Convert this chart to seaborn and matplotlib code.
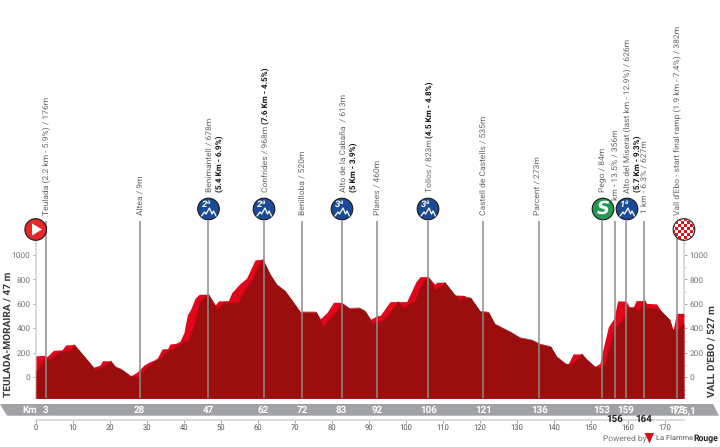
import matplotlib
matplotlib.use("Agg")
import matplotlib.pyplot as plt
import matplotlib.transforms as mtrans
from matplotlib.patches import Circle, Polygon, Rectangle
import numpy as np
import pandas as pd
import seaborn as sns

top_km = [0,2.4,3,4.7,7,8.1,10.3,15.5,17.3,18,20.2,21.4,23.1,25.5,27.2,29.2,30.8,32.6,34.1,35.6,36.2,37.8,38.9,40,40.9,41.8,43,44.1,46.6,48.4,49.3,52,52.9,55.1,56.9,59.2,61.3,63.2,65,67.3,69.1,71.4,75.7,76.8,78.7,80.4,82.6,84.7,87.4,88.9,90.4,92.1,93,95.7,97.9,100.2,102.7,103.8,106,107.8,108.3,110.5,113.2,115.7,116.2,117.5,120,122.3,124,126.3,128.1,130.8,134,136.2,139.1,140.7,143,143.9,145.2,147.5,148.8,151,152.4,153.2,154.7,156.2,157.2,159.5,160.4,161.4,162.2,164.6,165,167.7,169.1,171.3,172.2,173.1,175.1]
top_m = [175,180,170,220,225,265,268,82,100,136,134,87,65,11,40,100,128,147,232,234,272,278,294,368,510,556,646,679,679,590,624,627,692,765,810,960,965,845,760,706,632,534,534,477,532,613,613,564,567,542,474,502,505,619,619,619,782,823,823,760,777,777,673,670,654,649,540,532,436,400,373,324,305,272,251,169,114,114,191,191,147,87,114,224,414,482,624,624,572,572,627,627,605,600,537,469,387,523,523]
base_km = [0,2.4,3.8,6,7.4,9.6,10.3,15.5,16,17.7,20,20.2,21.4,23.1,25.5,27.7,29.2,30.8,32.6,33.5,35.3,37.1,38.9,40,41.2,43,44.3,46.6,48.4,48.8,50.6,52.4,54.7,56.9,58.7,60.1,61.3,63.2,65,67.3,69.1,71.4,75.7,76.8,77.7,79.5,81.3,82.6,84.7,87.4,88.9,90.4,90.7,92.1,93.9,96.6,97.9,99.3,101.1,102.4,103.8,105.1,106,107.8,110.1,110.5,113.2,114.6,115.7,117.5,120,122.3,124,126.3,128.1,130.8,134,136.2,139.1,140.7,143,143.6,145.2,147,147.5,148.8,151,152.4,153.8,155.1,156.2,157.4,158.7,160.1,161.4,163,164.1,164.6,165,167.7,169.1,171.3,172,173.1,175.1]
base_m = [38,155,142,196,215,215,268,82,55,82,120,134,87,65,11,0,55,100,147,142,210,229,262,292,300,442,619,679,590,551,605,613,613,728,810,905,965,845,760,706,632,534,534,477,409,482,537,605,564,567,542,474,436,447,463,564,619,564,605,619,728,796,823,714,755,777,673,632,660,649,540,532,436,400,373,324,305,272,251,169,114,101,114,174,191,147,87,74,114,251,400,428,482,572,572,542,619,627,565,565,537,469,392,387,441]

waypoint_km = [2.6,28,46.6,61.5,71.9,82.6,92.1,106,120.9,136,152.9,156.4,159.4,164.3,173.2]
waypoint_labels = ["3","28","47","62","72","83","92","106","121","136","153","156","159","164","173"]
lowered = {"156","164"}
elev_ticks = [0,200,400,600,800,1000]
elev_minor = [-100,100,300,500,700,900,1100]
km_ticks = list(range(0,171,10))
total_km = 175.1

# (x px, bottom px, text, bold) rotated labels
labels = [
 (45.7,215,"Teulada (2.2 km - 5.9%) / 176m",False),
 (139.5,215,"Altea / 9m",False),
 (209,192,"Benimantell / 678m",False),
 (219,192,"(5.4 Km - 6.9%)",True),
 (265,192,"Confrides / 968m",False),
 (265,124,"(7.6 Km - 4.5%)",True),
 (301.7,215,"Benilloba / 520m",False),
 (343,192,"Alto de la Cabaña  / 613m",False),
 (352.7,192,"(5 Km - 3.9%)",True),
 (377,215,"Planes / 460m",False),
 (429,192,"Tollos / 823m",False),
 (429,138,"(4.5 Km - 4.8%)",True),
 (483,215,"Castell de Castells / 535m",False),
 (538,215,"Parcent / 273m",False),
 (602.7,192,"Pego / 84m",False),
 (614.7,200,"km - 13.5% / 356m",False),
 (627,192.7,"Alto del Miserat (last km - 12.9%) / 626m",False),
 (636.7,192,"(5.7 Km - 9.3%)",True),
 (644,213,"1 km - 6.3% / 627m",False),
 (676.7,215,"Vall d'Ebo - start final ramp (1.9 km - 7.4%) / 382m",False),
]
climbs = [(208.5,"2ª"),(264,"2ª"),(342,"3ª"),(428,"3ª"),(627,"1ª")]

sns.set_theme(style="white")
plt.rcParams["font.family"] = ["Roboto","DejaVu Sans"]
plt.rcParams["text.hinting"] = "none"
GREY = "#666666"
BRIGHT = "#e2061a"
DARK = "#9a0f0d"
BAND = "#a0a2a5"

fig = plt.figure(figsize=(7.2,4.47),dpi=100,facecolor="white")
ax = fig.add_axes([0,0,1,1])
KX, KY = 3.7, 0.1223
ax.set_xlim(-36/KX,(720-36)/KX)
ax.set_ylim((377.3-447)/KY,377.3/KY)
ax.set_facecolor("white")
pix = mtrans.Affine2D().scale(1,-1).translate(0,447)
xpix = mtrans.blended_transform_factory(ax.transData,pix)
floor = (377.3-398.3)/KY

df_top = pd.DataFrame({"km":top_km,"m":top_m})
df_base = pd.DataFrame({"km":base_km,"m":base_m})
ax.fill_between(df_top.km,floor,df_top.m,color=BRIGHT,lw=0,zorder=2)
ax.fill_between(df_base.km,floor,df_base.m,color=DARK,lw=0,zorder=3)
sns.lineplot(data=df_base,x="km",y="m",color=DARK,lw=0.4,ax=ax,zorder=3,errorbar=None,estimator=None)

for k in waypoint_km:
    ax.plot([k,k],[221,398.3],transform=xpix,color="#8c8c8c",lw=1.1,zorder=4,solid_capstyle="butt")

# axes
ax.spines["top"].set_visible(False)
ax.spines["left"].set_position(("data",0))
ax.spines["right"].set_position(("data",total_km))
ax.spines["bottom"].set_position(("data",(377.3-420)/KY))
ax.spines["left"].set_bounds(floor,1240)
ax.spines["right"].set_bounds(floor,1240)
ax.spines["bottom"].set_bounds(0,total_km)
for s in ["left","right","bottom"]:
    ax.spines[s].set_color("#d5d5d5")
    ax.spines[s].set_linewidth(1.2)
    ax.spines[s].set_zorder(1)
ax.set_yticks(elev_ticks)
ax.set_yticks(elev_minor,minor=True)
ax.set_xticks(km_ticks)
ax.tick_params(axis="y",which="major",left=True,right=True,labelleft=True,labelright=True,length=2.5,width=0.6,color="#999999",labelsize=6,labelcolor="#777777",pad=1.5)
ax.tick_params(axis="y",which="minor",left=True,right=True,length=1.5,width=0.5,color="#bbbbbb")
ax.tick_params(axis="x",which="major",bottom=True,length=2,width=0.6,color="#999999",labelsize=5.5,labelcolor="#555555",pad=1)
ax.set_xlabel("");ax.set_ylabel("")

# km band
ax.add_patch(Polygon([(0,404),(713,404),(719,415.7),(7,415.7)],closed=True,transform=pix,facecolor=BAND,edgecolor="none",zorder=2))
ax.text(30,410,"Km",transform=pix,color="white",fontweight="bold",fontsize=7,ha="center",va="center",zorder=6)
for k,l in zip(waypoint_km,waypoint_labels):
    if l in lowered:
        ax.text(k,419.5,l,transform=xpix,color="#222222",fontweight="bold",fontsize=7,ha="center",va="center",zorder=6)
    else:
        ax.text(k,410,l,transform=xpix,color="white",fontweight="bold",fontsize=7,ha="center",va="center",zorder=6)
ax.text(695.5,410,"175,1",transform=pix,color="white",fontweight="bold",fontsize=7,ha="right",va="center",zorder=6)

# start / finish titles
ax.text(7.5,397,"TEULADA-MORAIRA / 47 m",transform=pix,rotation=90,ha="center",va="bottom",fontsize=7.3,fontweight="bold",color="#3a3a3a")
ax.text(712.5,397,"VALL D'EBO / 527 m",transform=pix,rotation=90,ha="center",va="bottom",fontsize=7.3,fontweight="bold",color="#3a3a3a")

# rotated labels
for x,b,t,bold in labels:
    ax.text(x+0.8,b,t,transform=pix,rotation=90,ha="center",va="bottom",fontsize=5.85 if bold else 6.1,
            fontweight="bold" if bold else "normal",color="#111111" if bold else GREY,zorder=5)

# icons
R = 10.8
def disc(x,y,c):
    ax.add_patch(Circle((x,y),R,transform=pix,facecolor=c,edgecolor="#1a1a1a",lw=0.8,zorder=7))
disc(35.7,229.5,"#e5282a")
ax.add_patch(Polygon([(32,223.5),(32,235.5),(42,229.5)],closed=True,transform=pix,facecolor="white",edgecolor="none",zorder=8))
for x,t in climbs:
    disc(x,209,"#1b4a96")
    ax.text(x-2,204.5,t,transform=pix,color="white",fontsize=6.8,fontweight="bold",fontstyle="italic",ha="center",va="center",zorder=8)
    ax.plot(x+np.array([-7,-4,-2.5,1,3.5,5,7.5]),209+np.array([7,3,5,-1,5,2,7]),transform=pix,color="white",lw=0.9,zorder=8)
disc(603,209,"#1f9a4f")
ax.text(603,209,"S",transform=pix,color="white",fontsize=13,fontweight="bold",fontstyle="italic",ha="center",va="center",zorder=8,family="DejaVu Sans")
fx,fy = 684,229.5
clip = Circle((fx,fy),R-0.5,transform=pix)
ax.add_patch(Circle((fx,fy),R,transform=pix,facecolor="white",edgecolor="#1a1a1a",lw=0.8,zorder=7))
for i in range(-4,4):
    for j in range(-4,4):
        if (i+j)%2==0:
            r = Rectangle((fx+i*3,fy+j*3),3,3,transform=pix,facecolor="#d8101c",edgecolor="none",zorder=8)
            ax.add_patch(r); r.set_clip_path(clip)

# credit
ax.text(603,438.5,"Powered by",transform=pix,color="#777777",fontsize=6,ha="left",va="center")
ax.add_patch(Polygon([(644.5,433),(654,433),(649.5,443.5)],closed=True,transform=pix,facecolor="#d8101c",edgecolor="none"))
ax.text(656,438.5,"La Flamme",transform=pix,color="#555555",fontsize=5.4,ha="left",va="center")
ax.text(693.5,438.5,"Rouge",transform=pix,color="#222222",fontsize=6.2,fontweight="bold",ha="left",va="center")

fig.savefig("out.png",dpi=100,facecolor="white")
